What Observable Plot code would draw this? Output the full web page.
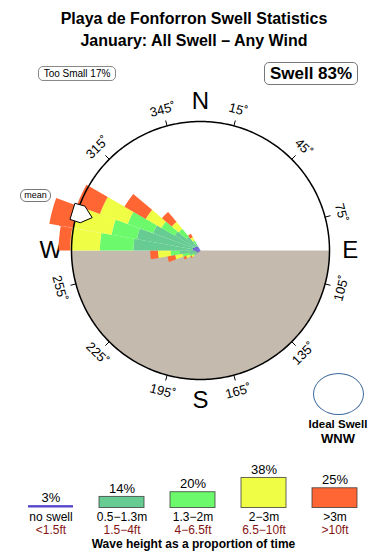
<!DOCTYPE html>
<html><head><meta charset="utf-8">
<script src="https://cdn.jsdelivr.net/npm/d3@7"></script>
<script src="https://cdn.jsdelivr.net/npm/@observablehq/plot@0.6"></script>
<style>
html,body{margin:0;padding:0;background:#fff;}
#wrap{position:relative;width:390px;height:560px;overflow:hidden;font-family:"Liberation Sans",Arial,Helvetica,sans-serif;color:#000;}
.abs{position:absolute;}
#title{left:0;width:388px;top:8px;text-align:center;font-weight:bold;font-size:16px;line-height:22px;}
.pill{position:absolute;border:1px solid #888;text-align:center;box-sizing:border-box;background:#fff;white-space:nowrap;}
</style></head><body>
<div id="wrap"></div>
<script>
// ---------- data ----------
const title = "Playa de Fonforron Swell Statistics";
const subtitle = "January: All Swell – Any Wind";
const tooSmallPct = 17;
const swellPct = 83;
const idealSwell = "WNW";
const meanBearing = 287;

// direction bins (bin centres, degrees) and the radial length of each wave-height band (rim = 100)
const dirBearings = [235, 245, 255, 265, 275, 285, 295, 305, 315, 325];
const noSwellLen  = [2, 3, 3, 4, 6, 6, 5, 5, 4, 3];
const h05to13Len  = [3, 3, 6, 12, 46, 44, 34, 18, 10, 3];
const h13to2Len   = [1, 3, 5, 7, 26, 20, 21, 12, 8, 3];
const h2to3Len    = [2, 3, 6, 10, 23, 30, 23, 14, 7, 3];
const over3Len    = [1, 2, 6, 6, 9, 19, 19, 19, 10, 3];

const heightCats = ["no swell", "0.5−1.3m", "1.3−2m", "2−3m", ">3m"];
const feetLabels = ["<1.5ft", "1.5−4ft", "4−6.5ft", "6.5−10ft", ">10ft"];
const shares     = [3, 14, 20, 38, 25];
const bandColors = ["#5546cc", "#66cc92", "#6cfa6c", "#effd45", "#ff6633"];

const tickBearings = [15, 45, 75, 105, 135, 165, 195, 225, 255, 285, 315, 345];
const compassLabels = ["N", "E", "S", "W"];
const compassBearings = [0, 90, 180, 270];

// ---------- helpers ----------
const RIM = 100, RMAX = 124.03, HALF = 5;
const rad = Math.PI / 180;
const pt = (r, deg) => [r * Math.sin(deg * rad), r * Math.cos(deg * rad)];
function wedge(b, r0, r1) {
  const outer = d3.range(b - HALF, b + HALF + 0.001, 1).map(a => pt(r1, a));
  const inner = r0 > 0 ? d3.range(b + HALF, b - HALF - 0.001, -1).map(a => pt(r0, a)) : [[0, 0]];
  return {type: "Polygon", coordinates: [[...outer, ...inner, outer[0]]]};
}
const bands = [noSwellLen, h05to13Len, h13to2Len, h2to3Len, over3Len];
const segs = [];
dirBearings.forEach((b, i) => {
  let r0 = 0;
  bands.forEach((arr, k) => { const r1 = r0 + arr[i]; segs.push({b, r0, r1, color: bandColors[k]}); r0 = r1; });
});
const land = {type: "Polygon", coordinates: [[...d3.range(90, 270.001, 1).map(a => pt(RIM, a)), pt(RIM, 90)]]};
const rim = {type: "LineString", coordinates: d3.range(0, 360.001, 1).map(a => pt(RIM, a))};
const ticks = {type: "MultiLineString", coordinates: tickBearings.map(b => [pt(RIM, b), pt(RIM + 4, b)])};
function arrowGeom(m) {
  // block arrow lying on the rim, pointing to the centre
  const ring = [pt(88, m), pt(96, m + 4), pt(104, m + 3.6), pt(104, m - 3.6), pt(96, m - 4), pt(88, m)];
  return {type: "Polygon", coordinates: [ring]};
}
const tangent = b => (b > 90 && b < 270) ? b - 180 : (b >= 270 ? b - 360 : b);
const FONT = '"Liberation Sans", Arial, Helvetica, sans-serif';

// ---------- rose ----------
const rose = Plot.plot({
  width: 390, height: 340,
  marginLeft: 40, marginRight: 30, marginTop: 10, marginBottom: 10,
  projection: {type: "reflect-y", domain: {type: "MultiPoint", coordinates: [[-RMAX, -RMAX], [RMAX, RMAX]]}},
  color: {type: "identity"},
  style: {fontFamily: FONT, overflow: "visible", background: "transparent"},
  marks: [
    Plot.geo([land], {fill: "#c4baae", stroke: "none"}),
    Plot.geo([ticks], {stroke: "#000", strokeWidth: 1}),
    Plot.text(tickBearings, {x: b => pt(113, b)[0], y: b => pt(113, b)[1], text: b => b + "˚", rotate: tangent, fontSize: 13, fill: "#000"}),
    Plot.text(compassLabels, {x: (d, i) => pt(116, compassBearings[i])[0], y: (d, i) => pt(116, compassBearings[i])[1], text: d => d, fontSize: 24, fill: "#000"}),
    Plot.geo(segs, {geometry: d => wedge(d.b, d.r0, d.r1), fill: d => d.color, stroke: "none"}),
    Plot.geo([rim], {stroke: "#000", strokeWidth: 1.5, fill: "none"}),
    Plot.geo([arrowGeom(meanBearing)], {fill: "#fff", stroke: "#000", strokeWidth: 1})
  ]
});

// ---------- legend ----------
const legendData = heightCats.map((c, i) => ({cat: c, ft: feetLabels[i], share: shares[i], color: bandColors[i]}));
const legend = Plot.plot({
  width: 390, height: 100,
  marginLeft: 15.5, marginRight: 19.5, marginTop: 15.9, marginBottom: 52.5,
  x: {type: "band", domain: heightCats, paddingInner: 0.366, paddingOuter: 0.183, axis: null},
  y: {domain: [0, 40], axis: null},
  color: {type: "identity"},
  style: {fontFamily: FONT, overflow: "visible", background: "transparent"},
  marks: [
    Plot.barY(legendData.filter(d => d.cat === "no swell"), {x: "cat", y: "share", fill: "color"}),
    Plot.barY(legendData.filter(d => d.cat !== "no swell"), {x: "cat", y: "share", fill: "color", stroke: "#333", strokeOpacity: 0.75}),
    Plot.text(legendData, {x: "cat", y: "share", text: d => d.share + "%", dy: -8, fontSize: 13, fill: "#000"}),
    Plot.text(legendData, {x: "cat", y: () => 0, text: "cat", dy: 9.5, fontSize: 12, fill: "#000"}),
    Plot.text(legendData, {x: "cat", y: () => 0, text: "ft", dy: 22, fontSize: 12, fill: "#841414"}),
    Plot.text(["Wave height as a proportion of time"], {frameAnchor: "bottom", dy: 40, fontSize: 12, fontWeight: "bold", fill: "#000"})
  ]
});

// ---------- layout ----------
const wrap = document.getElementById("wrap");
const t = document.createElement("div");
t.id = "title"; t.className = "abs";
t.innerHTML = title + "<br>" + subtitle;
wrap.appendChild(t);

function pill(text, css) {
  const d = document.createElement("div");
  d.className = "pill"; d.textContent = text;
  Object.assign(d.style, css);
  wrap.appendChild(d);
  return d;
}
pill("Too Small " + tooSmallPct + "%", {left: "38px", top: "66px", width: "78px", height: "15px", fontSize: "10px", lineHeight: "13px", borderRadius: "5px"});
pill("Swell " + swellPct + "%", {left: "264px", top: "62px", width: "94px", height: "23px", fontSize: "17px", fontWeight: "bold", lineHeight: "21px", borderRadius: "5px", borderColor: "#777"});

const rd = document.createElement("div");
rd.className = "abs"; rd.style.left = "0px"; rd.style.top = "80px";
rd.appendChild(rose); wrap.appendChild(rd);

pill("mean", {left: "20px", top: "189px", width: "31px", height: "13px", fontSize: "9px", lineHeight: "11px", borderRadius: "6px", borderColor: "#777"});

const ideal = document.createElement("div");
ideal.className = "abs";
Object.assign(ideal.style, {left: "313px", top: "373px", width: "51px", height: "42px", border: "1px solid #3f6b9c", borderRadius: "50%", boxSizing: "border-box"});
wrap.appendChild(ideal);
const it1 = document.createElement("div");
it1.className = "abs"; it1.textContent = "Ideal Swell";
Object.assign(it1.style, {left: "288px", width: "100px", top: "418px", textAlign: "center", fontWeight: "bold", fontSize: "11.5px", lineHeight: "13px"});
wrap.appendChild(it1);
const it2 = document.createElement("div");
it2.className = "abs"; it2.textContent = idealSwell;
Object.assign(it2.style, {left: "288px", width: "100px", top: "432px", textAlign: "center", fontWeight: "bold", fontSize: "13px", lineHeight: "14px"});
wrap.appendChild(it2);

const ld = document.createElement("div");
ld.className = "abs"; ld.style.left = "0px"; ld.style.top = "460px";
ld.appendChild(legend); wrap.appendChild(ld);
</script>
</body></html>
